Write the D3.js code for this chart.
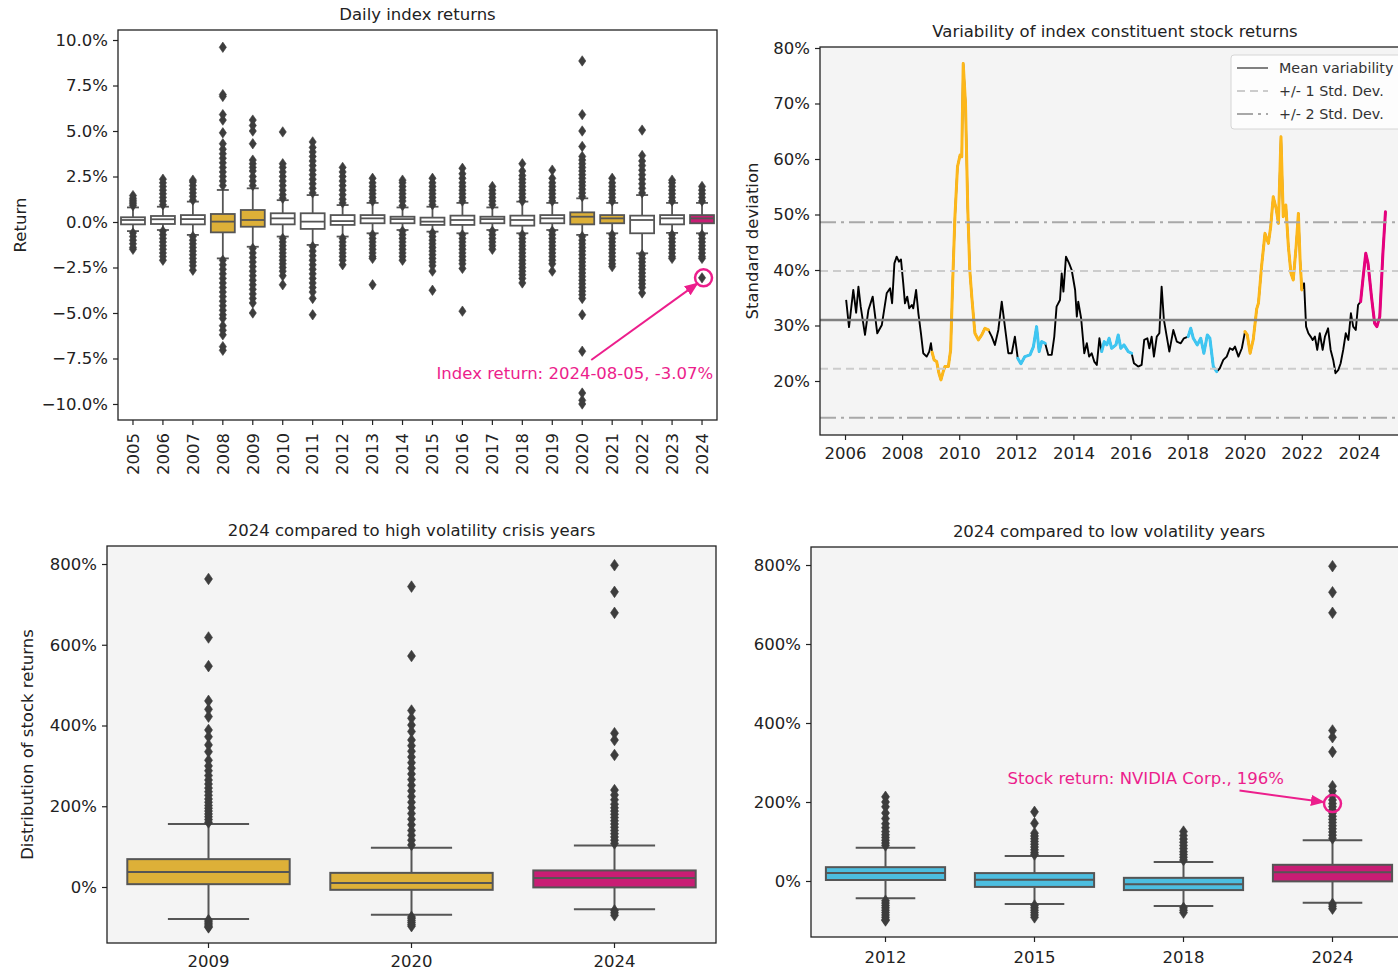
<!DOCTYPE html>
<html><head><meta charset="utf-8">
<script src="https://cdn.jsdelivr.net/npm/d3@7"></script>
<style>
html,body{margin:0;padding:0;background:#fff;overflow:hidden}
svg{display:block;font-family:"DejaVu Sans",sans-serif}
</style></head><body>
<svg id="c" width="1398" height="971"></svg>
<script>
// ---------------- DATA ----------------
// Panel 1: daily index returns (%), per year
const idxYears = ["2005","2006","2007","2008","2009","2010","2011","2012","2013","2014","2015","2016","2017","2018","2019","2020","2021","2022","2023","2024"];
const idxQ1  = [-0.13,-0.11,-0.13,-0.57,-0.26,-0.13,-0.38,-0.16,-0.07,-0.07,-0.16,-0.16,-0.07,-0.20,-0.07,-0.13,-0.07,-0.62,-0.13,-0.07];
const idxMed = [0.11,0.15,0.16,0.02,0.11,0.20,0.02,0.05,0.20,0.16,0.02,0.11,0.16,0.11,0.20,0.29,0.20,0.11,0.20,0.20];
const idxQ3  = [0.26,0.33,0.38,0.44,0.66,0.48,0.48,0.38,0.38,0.29,0.24,0.35,0.29,0.35,0.38,0.53,0.38,0.35,0.38,0.38];
const idxWLo = [-0.50,-0.44,-0.71,-2.00,-1.36,-0.80,-1.26,-0.80,-0.62,-0.44,-0.53,-0.62,-0.44,-0.62,-0.44,-0.71,-0.62,-1.72,-0.60,-0.62];
const idxWHi = [0.80,0.84,1.12,1.76,1.85,1.20,1.48,0.93,1.05,0.80,0.84,1.05,0.80,1.12,1.05,1.30,1.05,1.48,1.05,1.05];
const idxGroup = ["n","n","n","crisis","crisis","n","n","n","n","n","n","n","n","n","n","crisis","crisis","n","n","current"];
const idxOutliers = [
  [0.9,1.0,1.1,1.2,1.3,1.45,-0.6,-0.8,-1.0,-1.2,-1.4,-1.5],
  [0.95,1.15,1.35,1.55,1.75,1.95,2.15,2.35,-0.5,-0.7,-0.9,-1.1,-1.3,-1.5,-1.7,-1.9,-2.1],
  [1.2,1.4,1.6,1.8,2.0,2.2,2.3,-0.8,-1.0,-1.2,-1.4,-1.6,-1.8,-2.0,-2.2,-2.4,-2.65],
  [2.0,2.25,2.5,2.75,3.0,3.25,3.5,3.75,4.0,4.3,4.9,5.6,5.9,6.9,7.0,9.6,-2.1,-2.35,-2.6,-2.85,-3.1,-3.35,-3.6,-3.85,-4.1,-4.35,-4.6,-4.85,-5.1,-5.3,-5.7,-5.95,-6.2,-6.85,-7.05],
  [2.0,2.25,2.5,2.8,3.0,3.2,3.4,4.3,5.0,5.3,5.6,-1.45,-1.7,-1.95,-2.2,-2.45,-2.7,-2.95,-3.2,-3.45,-3.7,-3.95,-4.2,-4.45,-5.0],
  [1.3,1.5,1.75,2.0,2.25,2.5,2.75,3.0,3.2,4.95,-0.9,-1.1,-1.3,-1.5,-1.7,-1.9,-2.1,-2.3,-2.5,-2.7,-2.95,-3.45],
  [1.6,1.85,2.1,2.35,2.6,2.85,3.1,3.35,3.6,3.85,4.1,4.4,-1.35,-1.6,-1.85,-2.1,-2.35,-2.6,-2.85,-3.1,-3.35,-3.6,-3.85,-4.2,-5.1],
  [1.05,1.25,1.5,1.75,2.0,2.25,2.5,2.75,3.0,-0.9,-1.1,-1.3,-1.5,-1.7,-1.9,-2.1,-2.35],
  [1.15,1.35,1.55,1.75,1.95,2.15,2.4,-0.7,-0.9,-1.1,-1.3,-1.5,-1.7,-1.9,-2.0,-3.45],
  [0.9,1.15,1.35,1.55,1.75,1.95,2.15,2.3,-0.5,-0.7,-0.9,-1.1,-1.3,-1.5,-1.7,-1.9,-2.1],
  [0.95,1.15,1.35,1.55,1.75,1.95,2.15,2.4,-0.6,-0.8,-1.0,-1.2,-1.4,-1.6,-1.8,-2.0,-2.2,-2.4,-2.7,-3.75],
  [1.15,1.35,1.55,1.75,1.95,2.15,2.4,2.65,2.95,-0.7,-0.9,-1.1,-1.3,-1.5,-1.7,-1.9,-2.1,-2.3,-2.55,-4.9],
  [0.95,1.15,1.35,1.55,1.75,1.95,-0.5,-0.7,-0.9,-1.1,-1.3,-1.5],
  [1.15,1.35,1.55,1.75,1.95,2.15,2.35,2.55,2.8,3.2,-0.7,-0.9,-1.1,-1.3,-1.5,-1.7,-1.9,-2.1,-2.3,-2.5,-2.7,-2.9,-3.1,-3.35],
  [1.15,1.35,1.55,1.75,1.95,2.15,2.4,2.85,-0.5,-0.7,-0.9,-1.1,-1.3,-1.5,-1.7,-1.9,-2.1,-2.3,-2.7],
  [1.4,1.6,1.8,2.0,2.2,2.4,2.6,2.8,3.0,3.2,3.4,3.6,4.15,5.0,5.9,8.85,-0.8,-1.0,-1.2,-1.4,-1.6,-1.8,-2.0,-2.2,-2.4,-2.6,-2.8,-3.0,-3.2,-3.4,-3.6,-3.8,-4.0,-4.2,-5.1,-7.1,-9.4,-9.8,-10.0],
  [1.15,1.35,1.55,1.75,1.95,2.15,2.4,-0.7,-0.9,-1.1,-1.3,-1.5,-1.7,-1.9,-2.1,-2.3,-2.45],
  [1.6,1.85,2.1,2.35,2.6,2.85,3.1,3.35,3.65,5.05,-1.8,-2.0,-2.2,-2.4,-2.6,-2.8,-3.0,-3.2,-3.4,-3.6,-3.9],
  [1.15,1.35,1.55,1.75,1.95,2.15,2.3,-0.7,-0.9,-1.1,-1.3,-1.5,-1.7,-1.9,-2.0],
  [1.15,1.35,1.55,1.75,1.95,-0.7,-0.9,-1.1,-1.3,-1.5,-1.7,-1.9,-2.0,-3.07]
];
const idxYTicks = [-10,-7.5,-5,-2.5,0,2.5,5,7.5,10];
const idxHighlight = {year:"2024", value:-3.07, label:"Index return: 2024-08-05, -3.07%"};

// Panel 2: variability of constituent stock returns (std dev, %)
const varSeries = [
 [2006.04,34.6],[2006.14,29.7],[2006.29,36.4],[2006.39,32.3],[2006.47,37.0],[2006.55,33.4],[2006.70,28.3],[2006.82,32.8],[2006.97,35.2],[2007.13,28.6],
 [2007.29,30.1],[2007.46,35.8],[2007.58,36.7],[2007.65,34.0],[2007.73,41.2],[2007.81,42.4],[2007.89,41.5],[2007.96,41.9],[2008.04,37.6],[2008.10,34.0],
 [2008.18,35.2],[2008.25,33.1],[2008.34,33.7],[2008.39,33.1],[2008.49,36.4],[2008.57,32.2],[2008.66,28.6],[2008.74,25.0],[2008.86,24.4],[2008.95,25.3],
 [2009.01,26.8],[2009.05,25.2],[2009.12,23.8],[2009.21,23.5],[2009.29,21.4],[2009.36,20.2],[2009.44,21.7],[2009.50,22.6],[2009.62,22.6],[2009.70,25.6],
 [2009.77,37.6],[2009.85,49.6],[2009.94,58.6],[2010.03,60.7],[2010.09,60.4],[2010.14,77.2],[2010.22,70.0],[2010.30,51.0],[2010.37,40.0],[2010.44,35.2],
 [2010.55,28.6],[2010.67,27.4],[2010.79,28.3],[2010.90,29.5],[2011.02,29.2],[2011.14,28.0],[2011.25,26.5],[2011.37,29.2],[2011.49,34.3],[2011.60,29.8],
 [2011.72,25.0],[2011.84,25.0],[2011.95,28.0],[2012.05,24.1],[2012.16,23.1],[2012.30,24.4],[2012.48,24.7],[2012.60,26.2],[2012.71,29.8],[2012.80,25.3],
 [2012.89,27.1],[2013.01,26.8],[2013.12,24.7],[2013.24,24.7],[2013.33,28.0],[2013.41,33.4],[2013.53,34.6],[2013.59,39.4],[2013.65,36.1],[2013.74,42.4],
 [2013.85,41.2],[2013.94,40.0],[2014.06,36.4],[2014.12,31.6],[2014.17,34.3],[2014.27,31.3],[2014.38,25.0],[2014.47,26.8],[2014.55,24.4],[2014.64,25.0],
 [2014.73,23.5],[2014.82,22.9],[2014.91,27.7],[2014.99,25.3],[2015.08,27.1],[2015.17,26.5],[2015.25,27.7],[2015.34,25.9],[2015.49,26.5],[2015.57,28.3],
 [2015.66,25.9],[2015.77,26.5],[2015.92,25.3],[2016.04,25.0],[2016.12,23.2],[2016.27,22.6],[2016.39,22.9],[2016.48,27.4],[2016.59,27.7],[2016.66,25.9],
 [2016.74,28.0],[2016.82,24.4],[2016.92,28.0],[2017.01,28.6],[2017.09,37.0],[2017.17,31.0],[2017.27,28.0],[2017.36,25.3],[2017.50,29.2],[2017.62,27.1],
 [2017.76,26.8],[2017.87,27.7],[2018.02,28.0],[2018.11,29.5],[2018.20,27.7],[2018.34,26.5],[2018.46,27.7],[2018.57,25.0],[2018.69,28.3],[2018.78,27.7],
 [2018.90,22.6],[2019.02,21.7],[2019.13,22.3],[2019.25,23.8],[2019.37,24.4],[2019.48,25.9],[2019.58,25.6],[2019.66,26.2],[2019.78,24.4],[2019.90,25.9],
 [2020.01,28.9],[2020.09,28.3],[2020.19,25.0],[2020.30,27.5],[2020.42,33.0],[2020.48,34.0],[2020.59,40.6],[2020.71,46.6],[2020.83,44.8],[2020.91,47.8],
 [2021.00,53.2],[2021.10,51.1],[2021.18,48.4],[2021.27,64.0],[2021.35,49.6],[2021.44,51.7],[2021.53,44.2],[2021.62,39.4],[2021.70,38.2],[2021.80,44.2],
 [2021.88,50.2],[2021.94,41.8],[2022.00,36.4],[2022.08,37.6],[2022.15,29.8],[2022.23,28.6],[2022.31,28.0],[2022.38,27.4],[2022.46,28.0],[2022.54,25.6],
 [2022.63,28.6],[2022.73,25.6],[2022.81,28.0],[2022.92,29.5],[2023.01,25.6],[2023.10,23.8],[2023.18,21.4],[2023.28,22.0],[2023.36,23.2],[2023.45,25.6],
 [2023.54,28.6],[2023.63,27.4],[2023.72,32.2],[2023.80,29.8],[2023.89,29.2],[2023.97,33.7],[2024.06,34.3],[2024.15,38.8],[2024.24,43.0],[2024.32,41.2],
 [2024.44,35.2],[2024.55,30.4],[2024.63,29.8],[2024.73,31.6],[2024.84,43.0],[2024.93,50.5]
];
const segStart = [2009.03, 2012.03, 2014.98, 2018.01, 2020.0, 2024.05];
const segEnd   = [2011.03, 2013.02, 2016.05, 2019.03, 2022.01, 2025.0];
const segGroup = ["crisis","low","low","low","crisis","current"];
const varMean = 31.0, varStd = 8.8;
const varXTicks = [2006,2008,2010,2012,2014,2016,2018,2020,2022,2024];
const varYTicks = [20,30,40,50,60,70,80];
const legendLabels = ["Mean variability","+/- 1 Std. Dev.","+/- 2 Std. Dev."];

// Panels 3 & 4: distribution of annual stock returns (%)
const hcYears = ["2009","2020","2024"];
const lvYears = ["2012","2015","2018","2024"];
const retStats = {
  "2009": {q1:7,  med:37, q3:69, wlo:-79, whi:156, group:"crisis"},
  "2020": {q1:-7, med:10, q3:35, wlo:-69, whi:97,  group:"crisis"},
  "2024": {q1:-1, med:22, q3:41, wlo:-55, whi:103, group:"current"},
  "2012": {q1:2.5,med:20, q3:35, wlo:-44, whi:84,  group:"low"},
  "2015": {q1:-15,med:3,  q3:20, wlo:-58, whi:63,  group:"low"},
  "2018": {q1:-23,med:-8, q3:8,  wlo:-63, whi:48,  group:"low"}
};
const retOutliers = {
  "2009": [763,618,547,461,440,422,389,372,352,335,314,300,288,276,265,255,245,236,227,218,210,202,195,188,181,174,167,160,-82,-86,-90,-94,-98,-100],
  "2020": [744,572,437,418,401,385,364,350,336,322,308,294,280,266,252,238,224,210,196,182,168,154,140,128,116,104,-74,-78,-83,-88,-93,-97],
  "2024": [797,731,679,381,364,327,240,228,216,205,196,188,180,172,164,156,148,140,132,124,116,108,-58,-64,-70],
  "2012": [213,200,188,172,158,145,135,125,117,110,103,96,90,-50,-56,-62,-68,-74,-80,-86,-92,-98,-100],
  "2015": [175,146,121,114,107,100,93,86,79,72,67,-62,-68,-74,-80,-86,-92],
  "2018": [125,115,106,98,90,82,74,67,60,53,-68,-74,-80]
};
const retYTicks = [0,200,400,600,800];
const stockHighlight = {year:"2024", value:196, label:"Stock return: NVIDIA Corp., 196%"};

// ---------------- STYLE ----------------
const lineColors = {crisis:"#FDB71A", low:"#3EC6F2", current:"#E6007E"};
const boxColors  = {n:"#FFFFFF", crisis:"#DDB038", low:"#4CBEE0", current:"#C81D74"};
const annColor = "#EC1E8C";
const edge = "#555555", flier = "#3d3d3d", axisCol = "#222";
const FS = 16.5;

const svg = d3.select("#c");
const defs = svg.append("defs");
defs.append("marker").attr("id","arr").attr("viewBox","0 0 10 10").attr("refX",9).attr("refY",5)
  .attr("markerWidth",7).attr("markerHeight",7).attr("orient","auto-start-reverse")
  .append("path").attr("d","M0,1 L10,5 L0,9 Z").attr("fill",annColor);

function diamond(w,h){ return `M0,${-h} L${w},0 L0,${h} L${-w},0 Z`; }

function styleAxis(g){
  g.select(".domain").remove();
  g.selectAll(".tick line").attr("stroke",axisCol).attr("stroke-width",1.2);
  g.selectAll(".tick text").attr("fill",axisCol).style("font-size",FS+"px").style("font-family","DejaVu Sans");
}

function drawBox(g, cx, w, s, fill, y, outl, dw, dh, sw){
  g.append("line").attr("x1",cx).attr("x2",cx).attr("y1",y(s.q3)).attr("y2",y(s.whi)).attr("stroke",edge).attr("stroke-width",sw);
  g.append("line").attr("x1",cx).attr("x2",cx).attr("y1",y(s.q1)).attr("y2",y(s.wlo)).attr("stroke",edge).attr("stroke-width",sw);
  g.append("line").attr("x1",cx-w/4).attr("x2",cx+w/4).attr("y1",y(s.whi)).attr("y2",y(s.whi)).attr("stroke",edge).attr("stroke-width",sw);
  g.append("line").attr("x1",cx-w/4).attr("x2",cx+w/4).attr("y1",y(s.wlo)).attr("y2",y(s.wlo)).attr("stroke",edge).attr("stroke-width",sw);
  g.append("rect").attr("x",cx-w/2).attr("y",y(s.q3)).attr("width",w).attr("height",Math.max(1,y(s.q1)-y(s.q3)))
    .attr("fill",fill).attr("stroke",edge).attr("stroke-width",sw);
  g.append("line").attr("x1",cx-w/2).attr("x2",cx+w/2).attr("y1",y(s.med)).attr("y2",y(s.med)).attr("stroke",edge).attr("stroke-width",sw);
  g.selectAll(null).data(outl).enter().append("path")
    .attr("d",diamond(dw,dh)).attr("transform",v=>`translate(${cx},${y(v)})`)
    .attr("fill",flier).attr("stroke",flier).attr("stroke-width",0.6);
}

function frame(L,R,T,B){
  svg.append("rect").attr("x",L).attr("y",T).attr("width",R-L).attr("height",B-T)
    .attr("fill","none").attr("stroke",axisCol).attr("stroke-width",1.3);
}
function title(txt,x,y){
  svg.append("text").attr("x",x).attr("y",y).attr("text-anchor","middle").style("font-size",FS+"px").attr("fill",axisCol).text(txt);
}
function ylabel(txt,x,y){
  svg.append("text").attr("transform",`translate(${x},${y}) rotate(-90)`).attr("text-anchor","middle")
    .style("font-size",FS+"px").attr("fill",axisCol).text(txt);
}

// ---------------- PANEL 1 ----------------
{
  const L=118,R=717,T=30,B=420;
  const x = d3.scaleBand().domain(idxYears).range([L,R]).padding(0);
  const y = d3.scaleLinear().domain([-10.88,10.55]).range([B,T]);
  svg.append("rect").attr("x",L).attr("y",T).attr("width",R-L).attr("height",B-T).attr("fill","#fff");
  const g = svg.append("g");
  const bw = x.bandwidth()*0.8;
  idxYears.forEach((yr,i)=>{
    const s = {q1:idxQ1[i],med:idxMed[i],q3:idxQ3[i],wlo:idxWLo[i],whi:idxWHi[i]};
    drawBox(g, x(yr)+x.bandwidth()/2, bw, s, boxColors[idxGroup[i]], y, idxOutliers[i], 3.6, 5.2, 1.8);
  });
  svg.append("g").attr("transform",`translate(${L},0)`)
    .call(d3.axisLeft(y).tickValues(idxYTicks).tickFormat(d=>d3.format(".1f")(d)+"%").tickSize(5).tickPadding(5))
    .call(styleAxis);
  const xa = svg.append("g").attr("transform",`translate(0,${B})`)
    .call(d3.axisBottom(x).tickSize(5).tickPadding(5)).call(styleAxis);
  xa.selectAll(".tick text").attr("transform","rotate(-90)").attr("text-anchor","end")
    .attr("x",-13).attr("y",0).attr("dy","0.35em");
  frame(L,R,T,B);
  title("Daily index returns",(L+R)/2,20);
  ylabel("Return",26,(T+B)/2);
  // annotation
  const cx = x(idxHighlight.year)+x.bandwidth()/2, cy = y(idxHighlight.value);
  svg.append("circle").attr("cx",cx+1.5).attr("cy",cy).attr("r",8.5).attr("fill","none").attr("stroke",annColor).attr("stroke-width",2.5);
  svg.append("line").attr("x1",x("2020")+x.bandwidth()/2+9).attr("y1",y(-7.5)+1.5).attr("x2",cx-4.5).attr("y2",cy+5.5)
    .attr("stroke",annColor).attr("stroke-width",2).attr("marker-end","url(#arr)");
  svg.append("text").attr("x",x("2015")+x.bandwidth()/2+4).attr("y",y(-8.6)).style("font-size",FS+"px").attr("fill",annColor).text(idxHighlight.label);
}

// ---------------- PANEL 2 ----------------
{
  const L=820,R=1410,T=47,B=435;
  const x = d3.scaleLinear().domain([2005.124, 2005.124+(R-L)/28.55]).range([L,R]);
  const y = d3.scaleLinear().domain([10.27,80.18]).range([B,T]);
  svg.append("rect").attr("x",L).attr("y",T).attr("width",R-L).attr("height",B-T).attr("fill","#f4f4f4");
  const line = d3.line().x(d=>x(d[0])).y(d=>y(d[1]));
  svg.append("path").datum(varSeries).attr("d",line).attr("fill","none").attr("stroke","#000").attr("stroke-width",1.9).attr("stroke-linejoin","round");
  segStart.forEach((s,i)=>{
    const pts = varSeries.filter(d=>d[0]>=s && d[0]<=segEnd[i]);
    svg.append("path").datum(pts).attr("d",line).attr("fill","none").attr("stroke",lineColors[segGroup[i]])
      .attr("stroke-width",3).attr("stroke-linejoin","round").attr("stroke-linecap","round");
  });
  const hl = (v,col,dash,w)=>svg.append("line").attr("x1",L).attr("x2",R).attr("y1",y(v)).attr("y2",y(v))
      .attr("stroke",col).attr("stroke-width",w).attr("stroke-dasharray",dash);
  hl(varMean,"#808080",null,2.4);
  hl(varMean+varStd,"#cccccc","8,5",2); hl(varMean-varStd,"#cccccc","8,5",2);
  hl(varMean+2*varStd,"#a8a8a8","16,5,3,5",2); hl(varMean-2*varStd,"#a8a8a8","16,5,3,5",2);
  svg.append("g").attr("transform",`translate(${L},0)`)
    .call(d3.axisLeft(y).tickValues(varYTicks).tickFormat(d=>d+"%").tickSize(5).tickPadding(5)).call(styleAxis);
  svg.append("g").attr("transform",`translate(0,${B})`)
    .call(d3.axisBottom(x).tickValues(varXTicks).tickFormat(d3.format("d")).tickSize(5).tickPadding(7)).call(styleAxis);
  frame(L,R,T,B);
  title("Variability of index constituent stock returns",(L+R)/2,37);
  ylabel("Standard deviation",758,(T+B)/2);
  // legend
  const lg = svg.append("g").attr("transform","translate(1231,55)");
  lg.append("rect").attr("width",190).attr("height",74).attr("rx",3).attr("fill","#ffffff").attr("fill-opacity",0.8).attr("stroke","#d6d6d6");
  const lstyles = [["#808080",null],["#cccccc","8,5"],["#a8a8a8","16,5,3,5"]];
  legendLabels.forEach((t,i)=>{
    const yy = 13+i*23;
    lg.append("line").attr("x1",6).attr("x2",37).attr("y1",yy).attr("y2",yy).attr("stroke",lstyles[i][0]).attr("stroke-width",2).attr("stroke-dasharray",lstyles[i][1]);
    lg.append("text").attr("x",48).attr("y",yy+5).style("font-size","14.3px").attr("fill","#333").text(t);
  });
}

// ---------------- PANELS 3 & 4 ----------------
function retPanel(L,R,T,B,years,dom,ttl,ylab,ann,pad){
  const x = d3.scaleBand().domain(years).range([L,R]).padding(0);
  const y = d3.scaleLinear().domain(dom).range([B,T]);
  svg.append("rect").attr("x",L).attr("y",T).attr("width",R-L).attr("height",B-T).attr("fill","#f4f4f4");
  const g = svg.append("g");
  const bw = x.bandwidth()*0.8;
  years.forEach(yr=>{
    const s = retStats[yr];
    drawBox(g, x(yr)+x.bandwidth()/2, bw, s, boxColors[s.group], y, retOutliers[yr], 4, 5.8, 2);
  });
  svg.append("g").attr("transform",`translate(${L},0)`)
    .call(d3.axisLeft(y).tickValues(retYTicks).tickFormat(d=>d+"%").tickSize(5).tickPadding(5)).call(styleAxis);
  svg.append("g").attr("transform",`translate(0,${B})`)
    .call(d3.axisBottom(x).tickSize(5).tickPadding(pad)).call(styleAxis);
  frame(L,R,T,B);
  title(ttl,(L+R)/2,T-10);
  if(ylab) ylabel(ylab,33,(T+B)/2);
  if(ann){
    const cx = x(ann.year)+x.bandwidth()/2, cy = y(ann.value);
    svg.append("circle").attr("cx",cx).attr("cy",cy).attr("r",8.5).attr("fill","none").attr("stroke",annColor).attr("stroke-width",2.5);
    svg.append("line").attr("x1",cx-93).attr("y1",cy-13).attr("x2",cx-9).attr("y2",cy-1.5)
      .attr("stroke",annColor).attr("stroke-width",2).attr("marker-end","url(#arr)");
    svg.append("text").attr("x",cx-325).attr("y",cy-20).style("font-size",FS+"px").attr("fill",annColor).text(ann.label);
  }
}
retPanel(107,716,546,943,hcYears,[-138.7,844.6],"2024 compared to high volatility crisis years","Distribution of stock returns",null,7);
retPanel(811,1407,547,937,lvYears,[-141.8,845.6],"2024 compared to low volatility years",null,stockHighlight,9);
</script></body></html>
